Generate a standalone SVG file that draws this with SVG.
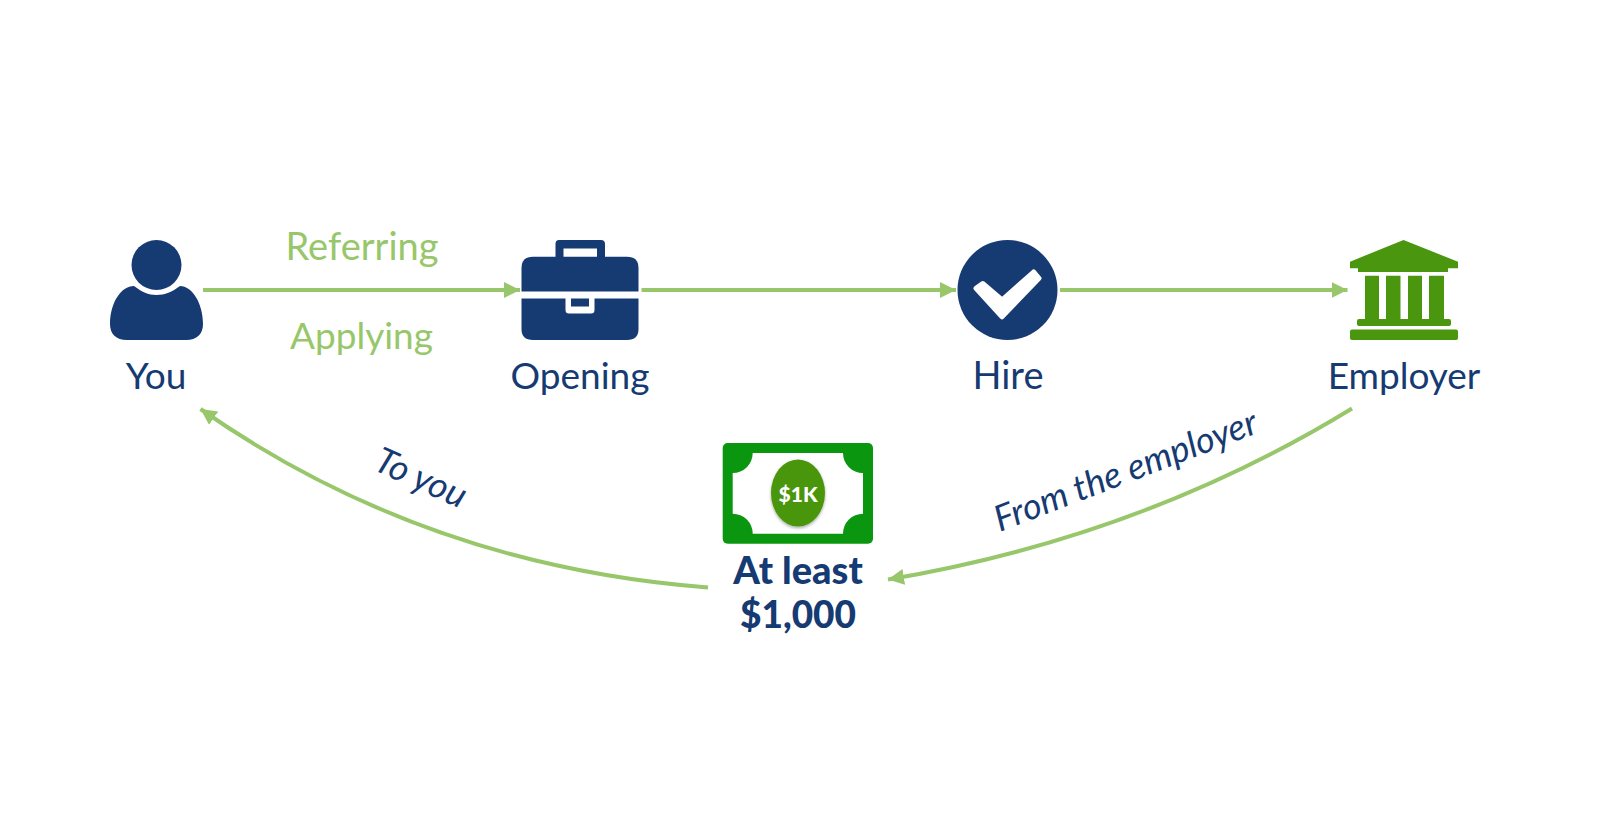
<svg xmlns="http://www.w3.org/2000/svg" width="1608" height="816" viewBox="0 0 1608 816">
<style>
.lbl{font-family:Lato,"Open Sans",sans-serif;font-size:37px;fill:#163a72;text-anchor:middle}
.grn{font-family:Lato,"Open Sans",sans-serif;font-size:37px;fill:#97c76a;text-anchor:middle}
.big{font-family:Lato,"Open Sans",sans-serif;font-size:37px;font-weight:900;fill:#163a72;text-anchor:middle}
.ital{font-family:Lato,"Open Sans",sans-serif;font-size:36px;font-style:italic;fill:#163a72;text-anchor:middle}
.navy{fill:#163a72}.bank{fill:#4a960f}
.c{fill:none;stroke:#97c76a;stroke-width:4}
</style>
<defs>
<marker id="a" markerUnits="userSpaceOnUse" markerWidth="16" markerHeight="16" refX="16" refY="8" orient="auto"><path d="M0 0L16 8L0 16Z" fill="#97c76a"/></marker>
<filter id="s" x="-20%" y="-20%" width="140%" height="140%"><feDropShadow dx="0" dy="1.500" stdDeviation="1.500" flood-color="#000" flood-opacity=".35"/></filter>
</defs>
<rect width="1608" height="816" fill="#fff"/>
<g id="connectors">
<path class="c" marker-end="url(#a)" d="M203 290H520"/>
<path class="c" marker-end="url(#a)" d="M641.500 290H956"/>
<path class="c" marker-end="url(#a)" d="M1060 290H1347.500"/>
<path class="c" marker-end="url(#a)" d="M1352 408.500Q1142 537 888 579.500"/>
<path class="c" marker-end="url(#a)" d="M708 587.500Q425 566 200.500 409"/>
</g>
<g id="you">
<ellipse class="navy" cx="156.500" cy="265" rx="25" ry="25"/>
<path class="navy" d="M134 286C142 292 148 295 156.500 295C165 295 172 292 180 286C192 286 203 303 203 324C203 334 197 340 186 340H127C116 340 110 334 110 324C110 303 121 286 134 286Z"/>
<text class="lbl" x="156" y="389">You</text>
</g>
<g id="opening">
<path class="navy" d="M559 240H601Q605 240 605 244V257H597V248.500H563.500V257H555.500V244Q555.500 240 559 240Z"/>
<path class="navy" d="M533 256.700H627Q638.500 256.700 638.500 268V291.500H521.500V268Q521.500 256.700 533 256.700Z"/>
<path class="navy" d="M521.500 298.500H565.500V310Q565.500 313.500 569 313.500H591Q594.500 313.500 594.500 310V298.500H638.500V329Q638.500 340 627 340H533Q521.500 340 521.500 329Z"/>
<rect class="navy" x="571" y="298.500" width="18" height="8"/>
<text class="lbl" x="580" y="389">Opening</text>
</g>
<g id="hire">
<ellipse class="navy" cx="1007.500" cy="290" rx="50" ry="50"/>
<path d="M976 288.300L982.700 283.500L1002 300L1033.600 272L1039 278.300L1002 316.800Z" fill="#fff" stroke="#fff" stroke-width="5" stroke-linejoin="round"/>
<text class="lbl" x="1008" y="389" style="font-size:38px">Hire</text>
</g>
<g id="employer">
<path class="bank" d="M1403.500 240L1458 261.700V268.300H1350V261.700Z"/>
<rect class="bank" x="1358" y="268" width="90" height="4"/>
<path class="bank" d="M1365 275.700H1444V320H1365ZM1379 275.700V320H1386V275.700ZM1400.500 275.700V320H1408V275.700ZM1422 275.700V320H1429V275.700Z" fill-rule="evenodd"/>
<rect class="bank" x="1357" y="319" width="94" height="7" rx="2"/>
<rect class="bank" x="1350" y="329.500" width="108" height="10.500" rx="2"/>
<text class="lbl" x="1404" y="389">Employer</text>
</g>
<g id="money">
<rect x="722.700" y="443" width="150.300" height="100.700" rx="5" fill="#0b960f"/>
<path fill="#fff" d="M752.700 453H843A20 20 0 0 0 863 473V513.700A20 20 0 0 0 843 533.700H752.700A20 20 0 0 0 732.700 513.700V473A20 20 0 0 0 752.700 453Z"/>
<ellipse cx="798" cy="493" rx="27" ry="33.500" fill="#4a960f" filter="url(#s)"/>
<text x="798" y="502" text-anchor="middle" font-family="Lato,sans-serif" font-size="21" font-weight="900" fill="#fff">$1K</text>
<text class="big" x="798" y="584" style="font-size:38px">At least</text>
<text class="big" x="798" y="628">$1,000</text>
</g>
<text class="grn" x="362" y="260" style="font-size:38px">Referring</text>
<text class="grn" x="361.500" y="349">Applying</text>
<text class="ital" transform="translate(416 489) rotate(24)">To you</text>
<text class="ital" transform="translate(1130 482) rotate(-21)">From the employer</text>
</svg>
